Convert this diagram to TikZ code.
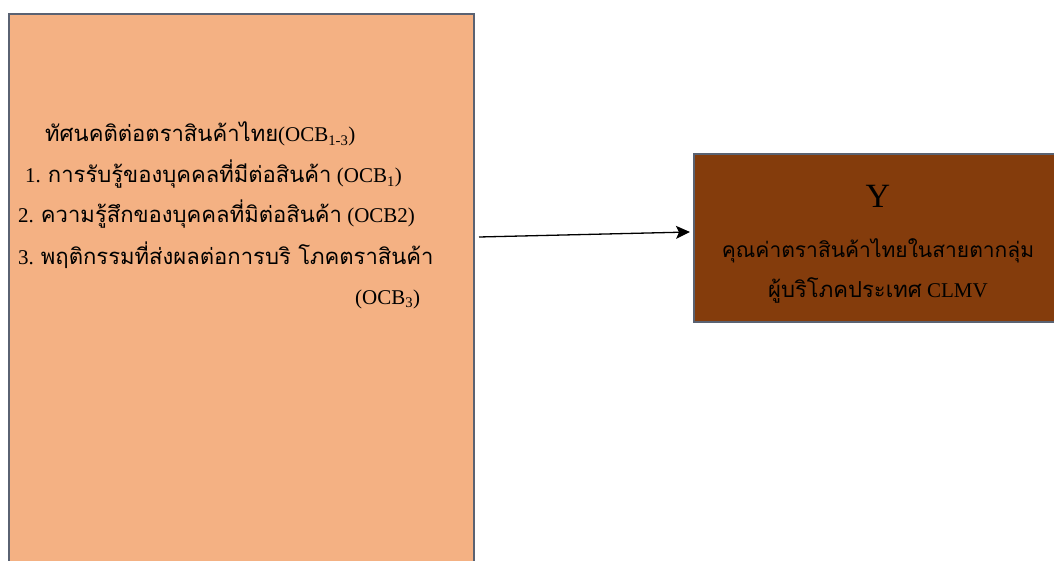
\documentclass[tikz,border=0pt]{standalone}
\usepackage{fontspec}
\setmainfont{Liberation Serif}
\newfontfamily\thaifont[Script=Thai,Scale=1.05]{Loma}
\newcommand{\tht}[1]{{\thaifont #1}}
\usetikzlibrary{arrows.meta,calc}
\definecolor{peach}{HTML}{F4B183}
\definecolor{rust}{HTML}{843C0C}
\definecolor{edge}{HTML}{5A6272}
\tikzset{
  panel/.style={draw=edge, line width=2pt},
  ltext/.style={anchor=base west, inner sep=0pt, font=\fontsize{21}{24}\selectfont},
  ctext/.style={anchor=base, inner sep=0pt, font=\fontsize{20}{24}\selectfont},
  link/.style={-{Stealth[length=14pt,width=13pt,inset=3pt]}, line width=1.3pt}
}
\begin{document}
\begin{tikzpicture}[x=1pt,y=-1pt]
\useasboundingbox (0,0) rectangle (1054,561);
\clip (0,0) rectangle (1054,561);
% attitude box (left) and brand-value box (right)
\node[panel, fill=peach, minimum width=465pt, minimum height=570pt, anchor=north west, inner sep=0pt] (obox) at (8,13) {};
\node[panel, fill=rust, minimum width=370pt, minimum height=168pt, anchor=north west, inner sep=0pt] (ybox) at (693,153) {};
% attitude items
\node[ltext] (t1) at (45,142) {\tht{ทัศนคติต่อตราสินค้าไทย}(OCB\textsubscript{1-3})};
\node[ltext] (t2) at (25,183) {1. \tht{การรับรู้ของบุคคลที่มีต่อสินค้า} (OCB\textsubscript{1})};
\node[ltext] (t3) at (18,223) {2. \tht{ความรู้สึกของบุคคลที่มิต่อสินค้า} (OCB2)};
\node[ltext] (t4) at (18,265) {3. \tht{พฤติกรรมที่ส่งผลต่อการบริ โภคตราสินค้า}};
\node[ltext] (t5) at (355,304) {(OCB\textsubscript{3})};
% outcome
\node[ctext, font=\fontsize{34}{36}\selectfont] (y1) at (878,208) {Y};
\node[ctext] (y2) at (878,258) {\tht{คุณค่าตราสินค้าไทยในสายตากลุ่ม}};
\node[ctext, font=\fontsize{21}{24}\selectfont] (y3) at (878,297) {\tht{ผู้บริโภคประเทศ} CLMV};
% link between the boxes
\coordinate (a0) at ($(obox.north east)+(4,224)$);
\coordinate (a1) at ($(ybox.north west)+(-3,79)$);
\draw[link] (a0) -- (a1);
\end{tikzpicture}
\end{document}
